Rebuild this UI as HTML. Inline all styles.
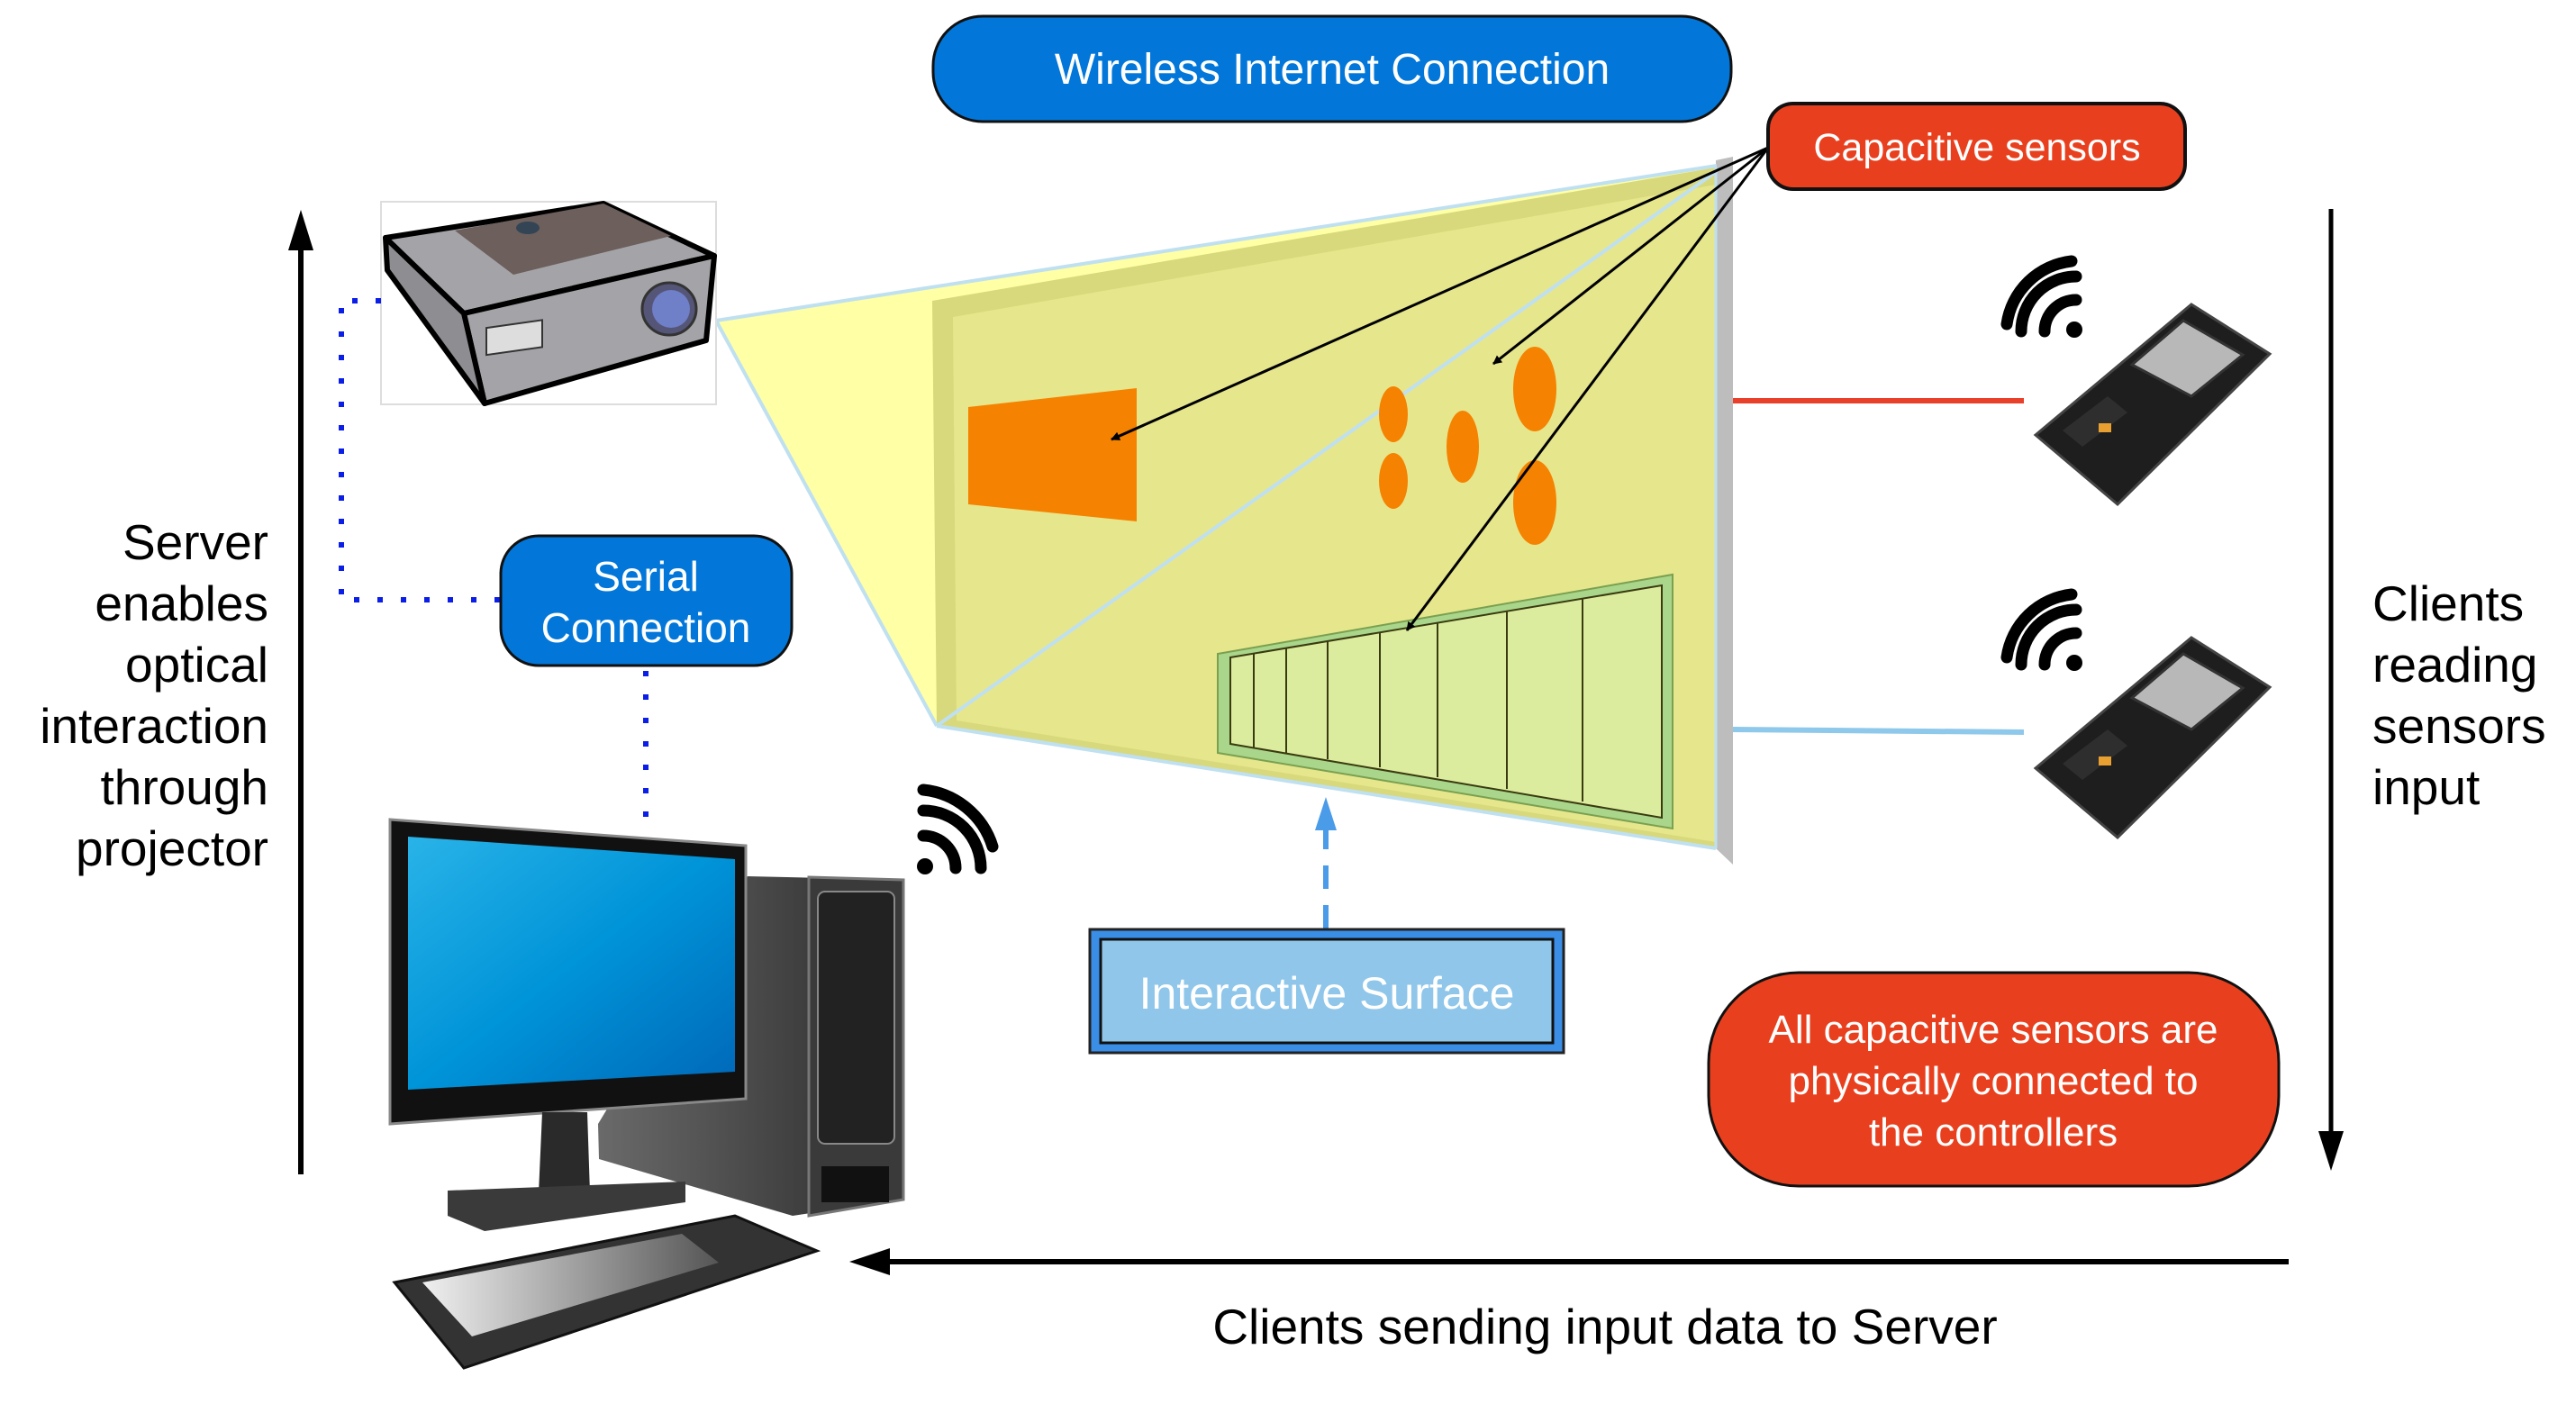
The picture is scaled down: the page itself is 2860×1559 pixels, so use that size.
<!DOCTYPE html>
<html><head><meta charset="utf-8"><style>
html,body{margin:0;padding:0;background:#fff;}
svg{display:block;}
text{font-family:"Liberation Sans",sans-serif;}
</style></head><body>
<svg width="2860" height="1559" viewBox="0 0 2860 1559" xmlns="http://www.w3.org/2000/svg">
<defs>
<marker id="ah" markerWidth="10" markerHeight="10" refX="9" refY="5" orient="auto" markerUnits="userSpaceOnUse" viewBox="0 0 10 10"><path d="M0,0 L10,5 L0,10 z" fill="#000"/></marker>
<linearGradient id="scr" x1="0" y1="0" x2="1" y2="1"><stop offset="0" stop-color="#29b3e8"/><stop offset="0.5" stop-color="#0094d8"/><stop offset="1" stop-color="#0068b8"/></linearGradient>
<linearGradient id="kb" x1="0" y1="0" x2="1" y2="0"><stop offset="0" stop-color="#f0f0f0"/><stop offset="1" stop-color="#555"/></linearGradient>
<linearGradient id="tw" x1="0" y1="0" x2="1" y2="0"><stop offset="0" stop-color="#6a6a6a"/><stop offset="1" stop-color="#2a2a2a"/></linearGradient>
</defs>

<!-- cone -->
<polygon points="795,356 1910,182 1040,806" fill="#ffffa6"/>
<!-- wall -->
<polygon points="1905,178 1924,174 1924,960 1905,942" fill="#bdbdbd"/>
<polygon points="1035,334 1905,186 1905,942 1040,806" fill="#d8d87c"/>
<polygon points="1058,352 1905,205 1905,935 1062,800" fill="#e6e68c"/>
<line x1="795" y1="356" x2="1906" y2="184" stroke="#bfe0f0" stroke-width="4"/>
<line x1="795" y1="356" x2="1040" y2="806" stroke="#bfe0f0" stroke-width="4"/>
<line x1="1040" y1="806" x2="1906" y2="190" stroke="#bfe0f0" stroke-width="4"/>
<line x1="1040" y1="806" x2="1905" y2="942" stroke="#bfe0f0" stroke-width="4"/>
<line x1="1905" y1="186" x2="1905" y2="942" stroke="#bfe0f0" stroke-width="3"/>

<!-- orange shapes -->
<polygon points="1075,452 1262,431 1262,579 1075,560" fill="#f58200"/>
<ellipse cx="1547" cy="460" rx="16" ry="31" fill="#f58200"/>
<ellipse cx="1547" cy="534" rx="16" ry="31" fill="#f58200"/>
<ellipse cx="1624" cy="496" rx="18" ry="40" fill="#f58200"/>
<ellipse cx="1704" cy="432" rx="24" ry="47" fill="#f58200"/>
<ellipse cx="1704" cy="558" rx="24" ry="47" fill="#f58200"/>

<!-- slider -->
<polygon points="1352,726 1857,638 1857,920 1352,836" fill="#a9d68a" stroke="#7aa050" stroke-width="2"/>
<polygon points="1366,730 1845,650 1845,908 1366,826" fill="#dcec9e" stroke="#3a3a10" stroke-width="2"/>
<g stroke="#3a3a10" stroke-width="2">
<line x1="1392" y1="726" x2="1392" y2="830"/>
<line x1="1428" y1="720" x2="1428" y2="836"/>
<line x1="1474" y1="712" x2="1474" y2="843"/>
<line x1="1532" y1="702" x2="1532" y2="852"/>
<line x1="1596" y1="691" x2="1596" y2="863"/>
<line x1="1673" y1="678" x2="1673" y2="876"/>
<line x1="1757" y1="664" x2="1757" y2="890"/>
</g>

<!-- arrows from capacitive -->
<g stroke="#000" stroke-width="3" fill="none">
<line x1="1963" y1="164" x2="1234" y2="488" marker-end="url(#ah)"/>
<line x1="1963" y1="164" x2="1658" y2="404" marker-end="url(#ah)"/>
<line x1="1963" y1="164" x2="1562" y2="700" marker-end="url(#ah)"/>
</g>

<!-- top boxes -->
<rect x="1036" y="18" width="886" height="117" rx="55" fill="#0277d9" stroke="#111" stroke-width="3"/>
<text x="1479" y="93" font-size="48" fill="#fff" text-anchor="middle">Wireless Internet Connection</text>
<rect x="1963" y="115" width="463" height="95" rx="28" fill="#e8401f" stroke="#111" stroke-width="4"/>
<text x="2195" y="178" font-size="43" fill="#fff" text-anchor="middle">Capacitive sensors</text>

<!-- projector -->
<rect x="423" y="224" width="372" height="225" fill="#fff" stroke="#ddd" stroke-width="2"/>
<polygon points="428,264 670,226 793,284 515,348" fill="#a4a4a8" stroke="#000" stroke-width="6" stroke-linejoin="round"/>
<polygon points="505,256 670,226 745,262 570,305" fill="#6c5f5c"/>
<polygon points="515,348 793,284 784,378 538,448" fill="#a4a4a8" stroke="#000" stroke-width="6" stroke-linejoin="round"/>
<polygon points="428,264 515,348 538,448 430,300" fill="#8e8e92" stroke="#000" stroke-width="6" stroke-linejoin="round"/>
<rect x="540" y="362" width="62" height="30" fill="#ddd" stroke="#333" stroke-width="2" transform="skewY(-8) translate(0,78)"/>
<ellipse cx="743" cy="343" rx="30" ry="29" fill="#557" stroke="#333" stroke-width="3"/>
<ellipse cx="745" cy="343" rx="21" ry="21" fill="#6f7fc8"/>
<ellipse cx="586" cy="253" rx="13" ry="7" fill="#345"/>

<!-- left arrow & text -->
<line x1="334" y1="1304" x2="334" y2="270" stroke="#000" stroke-width="6"/>
<polygon points="334,233 320,278 348,278" fill="#000"/>
<g font-size="55" fill="#000" text-anchor="end">
<text x="298" y="621">Server</text>
<text x="298" y="689">enables</text>
<text x="298" y="757">optical</text>
<text x="298" y="825">interaction</text>
<text x="298" y="893">through</text>
<text x="298" y="961">projector</text>
</g>

<!-- dotted serial lines -->
<polyline points="423,334 379,334 379,666 556,666" fill="none" stroke="#0a1ee8" stroke-width="6" stroke-dasharray="6,20"/>
<line x1="717" y1="745" x2="717" y2="912" stroke="#0a1ee8" stroke-width="6" stroke-dasharray="6,20"/>
<rect x="556" y="595" width="323" height="144" rx="42" fill="#0277d9" stroke="#111" stroke-width="3"/>
<text x="717" y="656" font-size="46" fill="#fff" text-anchor="middle">Serial</text>
<text x="717" y="713" font-size="46" fill="#fff" text-anchor="middle">Connection</text>

<!-- computer -->
<polygon points="830,973 1003,977 1003,1332 880,1350 665,1287 664,1248" fill="url(#tw)"/>
<polygon points="898,974 1003,977 1003,1332 898,1350" fill="#3a3a3a" stroke="#777" stroke-width="3"/>
<rect x="908" y="990" width="85" height="280" rx="8" fill="#222" stroke="#888" stroke-width="2"/>
<rect x="912" y="1295" width="75" height="40" fill="#111"/>
<polygon points="433,910 828,939 828,1220 433,1248" fill="#111" stroke="#888" stroke-width="3"/>
<polygon points="453,929 816,954 816,1190 453,1210" fill="url(#scr)"/>
<polygon points="602,1235 652,1235 655,1325 598,1325" fill="#2a2a2a"/>
<polygon points="497,1322 761,1312 761,1335 538,1367 497,1350" fill="#3a3a3a"/>
<polygon points="438,1424 816,1350 907,1389 515,1519" fill="#333" stroke="#111" stroke-width="3"/>
<polygon points="469,1424 757,1370 798,1402 524,1484" fill="url(#kb)"/>
<g fill="none" stroke="#000" stroke-width="13" stroke-linecap="round">
<path d="M1025,928 A36,36 0 0 1 1061,964"/>
<path d="M1025,900 A64,64 0 0 1 1089,964"/>
<path d="M1025,877 A90,90 0 0 1 1102,940" />
</g>
<circle cx="1027" cy="962" r="9" fill="#000"/>

<!-- interactive surface -->
<line x1="1472" y1="1031" x2="1472" y2="915" stroke="#4a9be8" stroke-width="6" stroke-dasharray="26,18"/>
<polygon points="1472,885 1460,922 1484,922" fill="#4a9be8"/>
<rect x="1210" y="1032" width="526" height="137" fill="#3a8ee6" stroke="#222" stroke-width="3"/>
<rect x="1222" y="1043" width="502" height="115" fill="#8fc6ea" stroke="#111" stroke-width="3"/>
<text x="1473" y="1120" font-size="50" fill="#fff" text-anchor="middle">Interactive Surface</text>

<!-- connection lines to boards -->
<line x1="1924" y1="445" x2="2247" y2="445" stroke="#e8402a" stroke-width="6"/>
<line x1="1924" y1="810" x2="2247" y2="813" stroke="#8ec8ea" stroke-width="6"/>

<!-- ESP32 boards -->
<g id="b1">
<polygon points="2433,338 2520,393 2351,560 2260,483" fill="#1e1e1e" stroke="#444" stroke-width="3"/>
<polygon points="2424,356 2490,394 2433,440 2367,405" fill="#b8b8b8" stroke="#333" stroke-width="3"/>
<polygon points="2290,478 2340,440 2362,458 2312,496" fill="#2e2e2e"/>
<rect x="2330" y="470" width="14" height="10" fill="#e8a030"/>
</g>
<use href="#b1" transform="translate(0,370)"/>
<g fill="none" stroke="#000" stroke-width="13" stroke-linecap="round">
<path d="M2270,368 A35,35 0 0 1 2305,333"/>
<path d="M2244,368 A61,61 0 0 1 2305,307"/>
<path d="M2228,360 A82,82 0 0 1 2300,290"/>
<path d="M2270,738 A35,35 0 0 1 2305,703"/>
<path d="M2244,738 A61,61 0 0 1 2305,677"/>
<path d="M2228,730 A82,82 0 0 1 2300,660"/>
</g>
<circle cx="2303" cy="366" r="9" fill="#000"/>
<circle cx="2303" cy="736" r="9" fill="#000"/>

<!-- right arrow & text -->
<line x1="2588" y1="232" x2="2588" y2="1262" stroke="#000" stroke-width="5"/>
<polygon points="2588,1300 2574,1256 2602,1256" fill="#000"/>
<g font-size="55" fill="#000">
<text x="2634" y="689">Clients</text>
<text x="2634" y="757">reading</text>
<text x="2634" y="825">sensors</text>
<text x="2634" y="893">input</text>
</g>

<!-- red note -->
<rect x="1897" y="1080" width="633" height="237" rx="100" fill="#e8401f" stroke="#111" stroke-width="3"/>
<g font-size="44" fill="#fff" text-anchor="middle">
<text x="2213" y="1158">All capacitive sensors are</text>
<text x="2213" y="1215">physically connected to</text>
<text x="2213" y="1272">the controllers</text>
</g>

<!-- bottom arrow -->
<line x1="2541" y1="1401" x2="985" y2="1401" stroke="#000" stroke-width="6"/>
<polygon points="943,1401 988,1386 988,1416" fill="#000"/>
<text x="1782" y="1492" font-size="55" fill="#000" text-anchor="middle">Clients sending input data to Server</text>
</svg>
</body></html>
